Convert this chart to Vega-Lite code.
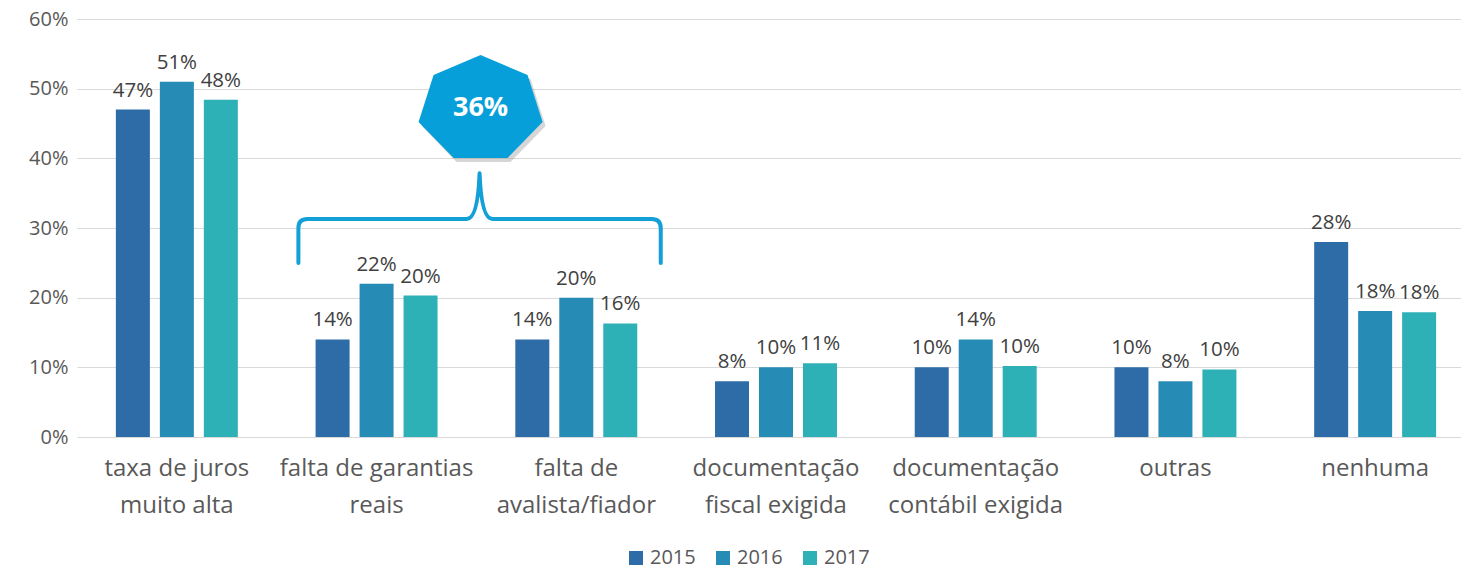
{
  "$schema": "https://vega.github.io/schema/vega-lite/v6.json",
  "autosize": {"type": "none"},
  "width": 1398,
  "height": 418,
  "padding": {"left": 77, "top": 19, "right": 0, "bottom": 133},
  "background": "white",
  "config": {"font": "Open Sans", "view": {"stroke": null}},
  "datasets": {
    "bars": [
      {"cat": "taxa de juros|muito alta", "year": "2015", "value": 0.47},
      {"cat": "taxa de juros|muito alta", "year": "2016", "value": 0.51},
      {"cat": "taxa de juros|muito alta", "year": "2017", "value": 0.484},
      {"cat": "falta de garantias|reais", "year": "2015", "value": 0.14},
      {"cat": "falta de garantias|reais", "year": "2016", "value": 0.22},
      {"cat": "falta de garantias|reais", "year": "2017", "value": 0.203},
      {"cat": "falta de|avalista/fiador", "year": "2015", "value": 0.14},
      {"cat": "falta de|avalista/fiador", "year": "2016", "value": 0.20},
      {"cat": "falta de|avalista/fiador", "year": "2017", "value": 0.163},
      {"cat": "documentação|fiscal exigida", "year": "2015", "value": 0.08},
      {"cat": "documentação|fiscal exigida", "year": "2016", "value": 0.10},
      {"cat": "documentação|fiscal exigida", "year": "2017", "value": 0.106},
      {"cat": "documentação|contábil exigida", "year": "2015", "value": 0.10},
      {"cat": "documentação|contábil exigida", "year": "2016", "value": 0.14},
      {"cat": "documentação|contábil exigida", "year": "2017", "value": 0.102},
      {"cat": "outras", "year": "2015", "value": 0.10},
      {"cat": "outras", "year": "2016", "value": 0.08},
      {"cat": "outras", "year": "2017", "value": 0.097},
      {"cat": "nenhuma", "year": "2015", "value": 0.28},
      {"cat": "nenhuma", "year": "2016", "value": 0.181},
      {"cat": "nenhuma", "year": "2017", "value": 0.179}
    ],
    "badge": [{"cat": "falta de garantias|reais", "v": 0.4744, "label": "36%"}],
    "brace": [{"cat": "falta de garantias|reais", "v": 0.3129}]
  },
  "layer": [
    {
      "data": {"name": "bars"},
      "mark": {"type": "bar"},
      "encoding": {
        "x": {
          "field": "cat", "type": "nominal", "sort": null,
          "scale": {"paddingInner": 0, "paddingOuter": 0},
          "axis": {
            "title": null, "domain": false, "ticks": false, "labelAngle": 0,
            "labelExpr": "split(datum.label, '|')", "labelLimit": 400,
            "labelFontSize": 24, "labelColor": "#595959", "labelPadding": 19,
            "labelLineHeight": 37, "labelBaseline": "top"
          }
        },
        "xOffset": {"field": "year", "type": "nominal", "scale": {"paddingInner": 0.227, "paddingOuter": 0.884}},
        "y": {
          "field": "value", "type": "quantitative",
          "scale": {"domain": [0, 0.6], "nice": false},
          "axis": {
            "title": null, "values": [0, 0.1, 0.2, 0.3, 0.4, 0.5, 0.6], "format": ".0%",
            "domain": false, "ticks": false, "grid": true, "gridColor": "#D9D9D9", "gridWidth": 1,
            "labelFontSize": 20, "labelColor": "#595959", "labelPadding": 9
          }
        },
        "color": {
          "field": "year", "type": "nominal",
          "scale": {"domain": ["2015", "2016", "2017"], "range": ["#2E6CA8", "#268BB5", "#2EB0B7"]},
          "legend": {
            "title": null, "orient": "none", "direction": "horizontal",
            "legendX": 549, "legendY": 529, "symbolType": "square", "symbolSize": 196,
            "symbolStrokeWidth": 0, "labelFontSize": 20, "labelColor": "#595959",
            "labelOffset": 4, "columnPadding": 17, "padding": 0
          }
        }
      }
    },
    {
      "data": {"name": "bars"},
      "mark": {"type": "text", "baseline": "bottom", "dy": -9, "fontSize": 20.5, "color": "#404040"},
      "encoding": {
        "x": {"field": "cat", "type": "nominal", "sort": null},
        "xOffset": {"field": "year", "type": "nominal"},
        "y": {"field": "value", "type": "quantitative"},
        "text": {"field": "value", "type": "quantitative", "format": ".0%"}
      }
    },
    {
      "data": {"name": "brace"},
      "mark": {
        "type": "point", "filled": false, "stroke": "#12A0D7", "strokeWidth": 4, "opacity": 1,
        "size": 133956, "xOffset": 103, "strokeCap": "round", "strokeJoin": "round",
        "shape": "M-0.99,0.24 L-0.99,0.05 Q-0.99,0 -0.94,0 L-0.07,0 Q-0.01,0 0,-0.25 Q0.01,0 0.07,0 L0.94,0 Q0.99,0 0.99,0.05 L0.99,0.24"
      },
      "encoding": {
        "x": {"field": "cat", "type": "nominal", "sort": null},
        "y": {"field": "v", "type": "quantitative"}
      }
    },
    {
      "data": {"name": "badge"},
      "mark": {
        "type": "point", "filled": true, "color": "#8A8A8A", "opacity": 0.35,
        "size": 15376, "xOffset": 107, "yOffset": 4,
        "shape": "M0,-0.831 L0.758,-0.508 L1,0.25 L0.435,0.831 L-0.435,0.831 L-1,0.25 L-0.758,-0.508 Z"
      },
      "encoding": {
        "x": {"field": "cat", "type": "nominal", "sort": null},
        "y": {"field": "v", "type": "quantitative"}
      }
    },
    {
      "data": {"name": "badge"},
      "mark": {
        "type": "point", "filled": true, "color": "#079FD9", "opacity": 1,
        "size": 15376, "xOffset": 104,
        "shape": "M0,-0.831 L0.758,-0.508 L1,0.25 L0.435,0.831 L-0.435,0.831 L-1,0.25 L-0.758,-0.508 Z"
      },
      "encoding": {
        "x": {"field": "cat", "type": "nominal", "sort": null},
        "y": {"field": "v", "type": "quantitative"}
      }
    },
    {
      "data": {"name": "badge"},
      "mark": {"type": "text", "fontSize": 27, "fontWeight": "bold", "color": "white", "baseline": "middle", "xOffset": 104, "dy": 1},
      "encoding": {
        "x": {"field": "cat", "type": "nominal", "sort": null},
        "y": {"field": "v", "type": "quantitative"},
        "text": {"field": "label"}
      }
    }
  ]
}
